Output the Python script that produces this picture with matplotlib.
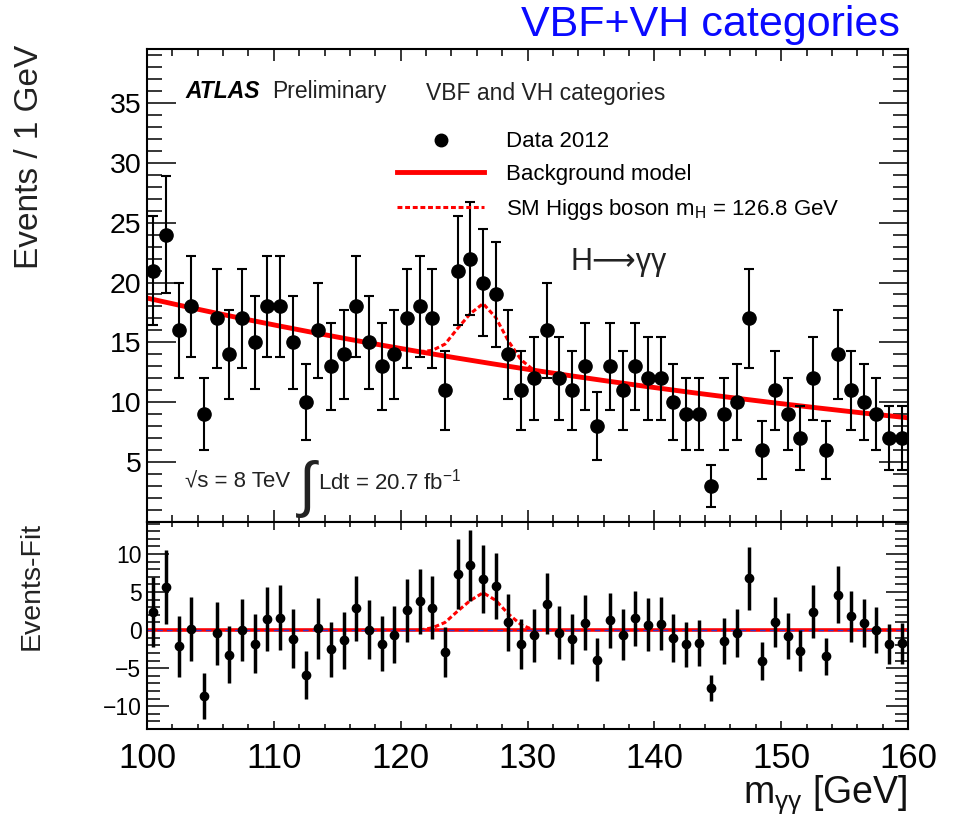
import numpy as np
import matplotlib.pyplot as plt
from matplotlib.lines import Line2D
from matplotlib.ticker import MultipleLocator

plt.rcParams['font.family'] = ['Liberation Sans', 'DejaVu Sans']
plt.rcParams['mathtext.fontset'] = 'custom'
plt.rcParams['mathtext.rm'] = 'Liberation Sans'
plt.rcParams['mathtext.it'] = 'Liberation Sans:italic'
plt.rcParams['mathtext.bf'] = 'Liberation Sans:bold'

# diphoton mass spectrum, 1 GeV bins from 100 to 160 GeV
bin_edges = np.arange(100, 161, 1)
events = [21, 24, 16, 18, 9, 17, 14, 17, 15, 18,
          18, 15, 10, 16, 13, 14, 18, 15, 13, 14,
          17, 18, 17, 11, 21, 22, 20, 19, 14, 11,
          12, 16, 12, 11, 13, 8, 13, 11, 13, 12,
          12, 10, 9, 9, 3, 9, 10, 17, 6, 11,
          9, 7, 12, 6, 14, 11, 10, 9, 7, 7]

bkg_at_100 = 18.7
bkg_at_160 = 8.7

# SM Higgs signal on top of the background, per bin
sig_centers = [121.5, 122.5, 123.5, 124.5, 125.5, 126.5, 127.5, 128.5, 129.5, 130.5]
sig_excess = [0.0, 0.3, 1.0, 2.5, 3.9, 4.9, 3.9, 2.1, 0.7, 0.0]

y_ticks_top = [5, 10, 15, 20, 25, 30, 35]
y_ticks_bot = [-10, -5, 0, 5, 10]
x_ticks = [100, 110, 120, 130, 140, 150, 160]


def bkg(m):
    m = np.asarray(m, dtype=float)
    k = np.log(bkg_at_100 / bkg_at_160) / 60.0
    return bkg_at_100 * np.exp(-k * (m - 100))


centers = 0.5 * (bin_edges[:-1] + bin_edges[1:])
events = np.array(events, dtype=float)
errs = np.sqrt(events)
resid = events - bkg(centers)
sig_centers = np.array(sig_centers)
sig_excess = np.array(sig_excess)

W, H = 955, 816
fig = plt.figure(figsize=(W / 100, H / 100), dpi=100)
L, R = 147 / W, 908 / W
ax1 = fig.add_axes([L, 1 - 522 / H, R - L, (522 - 49) / H])
ax2 = fig.add_axes([L, 1 - 729 / H, R - L, (729 - 522) / H], sharex=ax1)

red = '#ff0000'
ink = '#222222'

# --- upper panel
ax1.errorbar(centers, events, yerr=errs, fmt='o', color='black', ms=9.5,
             elinewidth=1.5, capsize=3.5, capthick=1.5, zorder=3)
m_fine = np.linspace(100, 160, 300)
bkg_line, = ax1.plot(m_fine, bkg(m_fine), color=red, lw=3.5, zorder=2)
sig_line, = ax1.plot(sig_centers, bkg(sig_centers) + sig_excess, color=red,
                     lw=2.2, ls=(0, (1.6, 0.9)), zorder=2)

ax1.set_xlim(100, 160)
ax1.set_ylim(0, 39.5)
ax1.set_yticks(y_ticks_top)
ax1.yaxis.set_minor_locator(MultipleLocator(1))
ax1.xaxis.set_major_locator(MultipleLocator(10))
ax1.xaxis.set_minor_locator(MultipleLocator(2))
ax1.tick_params(which='both', direction='in', top=True, right=True,
                labelbottom=False, width=1.1)
ax1.tick_params(axis='y', which='major', length=21, labelsize=20.5, pad=4)
ax1.tick_params(axis='y', which='minor', length=10.5)
ax1.tick_params(axis='x', which='major', length=8.6)
ax1.tick_params(axis='x', which='minor', length=4.7)
for s in ax1.spines.values():
    s.set_linewidth(1.5)

ax1.set_ylabel('Events / 1 GeV', fontsize=24, loc='top', color=ink)
ax1.yaxis.set_label_coords(-0.134, 1.008)

h_data = Line2D([], [], marker='o', ls='none', color='black', ms=9)
ax1.legend([h_data, bkg_line, sig_line],
           ['Data 2012', 'Background model', r'SM Higgs boson m$_{\rm H}$ = 126.8 GeV'],
           loc='upper left', bbox_to_anchor=(0.329, 0.826), frameon=False,
           fontsize=16, handlelength=3.9, handletextpad=1.0,
           labelspacing=0.53, borderpad=0, borderaxespad=0)

ax1.text(0.05, 0.911, 'ATLAS', transform=ax1.transAxes, fontsize=16.5,
         fontweight='bold', fontstyle='italic', va='center')
ax1.text(0.164, 0.911, 'Preliminary', transform=ax1.transAxes, fontsize=16.5,
         va='center', color=ink)
ax1.text(0.366, 0.905, 'VBF and VH categories', transform=ax1.transAxes,
         fontsize=16.5, va='center', color=ink)
ax1.text(0.557, 0.55, 'H\u27f6\u03b3\u03b3', transform=ax1.transAxes,
         fontsize=22, va='center', color=ink)
ax1.text(0.05, 0.085, '\u221as = 8 TeV', transform=ax1.transAxes,
         fontsize=16, va='center', color=ink)
ax1.text(0.199, 0.07, '\u222b', transform=ax1.transAxes,
         fontsize=44, va='center', color=ink)
ax1.text(0.225, 0.085, r'Ldt = 20.7 fb$^{-1}$', transform=ax1.transAxes,
         fontsize=16, va='center', color=ink)

# --- lower panel: data minus fit
ax2.errorbar(centers, resid, yerr=errs, fmt='o', color='black', ms=6,
             elinewidth=2.5, capsize=0, zorder=3)
ax2.axhline(0, color=red, lw=2.6, zorder=2)
ax2.axhline(0, color='#3333cc', lw=1.0, ls=(0, (4, 3)), zorder=2.5)
ax2.plot(sig_centers, sig_excess, color=red, lw=2.2, ls=(0, (1.6, 0.9)), zorder=2)

ax2.set_ylim(-13, 14.2)
ax2.set_yticks(y_ticks_bot)
ax2.yaxis.set_minor_locator(MultipleLocator(1))
ax2.set_xticks(x_ticks)
ax2.xaxis.set_minor_locator(MultipleLocator(2))
ax2.tick_params(which='both', direction='in', top=True, right=True, width=1.1)
ax2.tick_params(axis='y', which='major', length=16, labelsize=16.5, pad=4)
ax2.tick_params(axis='y', which='minor', length=9.4)
ax2.tick_params(axis='x', which='major', length=6, labelsize=25, pad=9)
ax2.tick_params(axis='x', which='minor', length=3.5)
for s in ax2.spines.values():
    s.set_linewidth(1.5)

ax2.set_ylabel('Events-Fit', fontsize=20.5, loc='top', color=ink)
ax2.yaxis.set_label_coords(-0.134, 1.0)
ax2.set_xlabel('m$_{\\rm \u03b3\u03b3}$ [GeV]', fontsize=27, loc='right', color='#111111')
ax2.xaxis.set_label_coords(1.0, -0.215)

fig.text(0.942, 0.969, 'VBF+VH categories', color='#0a0aff', fontsize=31,
         ha='right', va='center')

fig.savefig('out.png', dpi=100)
